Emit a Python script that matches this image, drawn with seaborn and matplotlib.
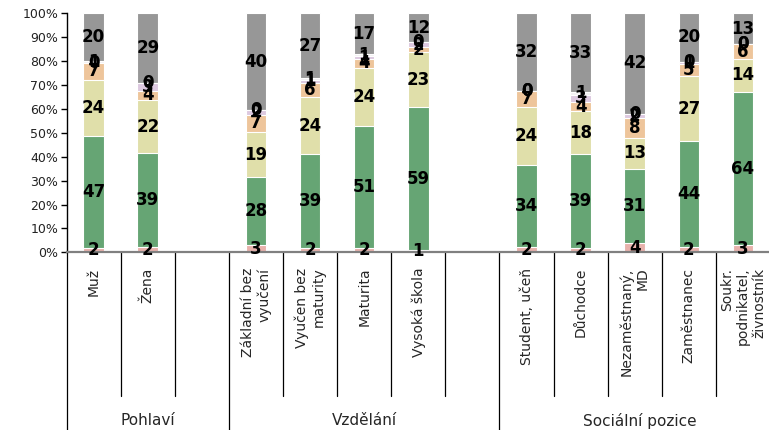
import numpy as np
import pandas as pd
import matplotlib
matplotlib.use("Agg")
import matplotlib.pyplot as plt
import matplotlib.transforms as mtransforms
import seaborn as sns

# categories (blank slots are the gaps between groups)
categories = ["Muž", "Žena", "", "Základní bez\nvyučení", "Vyučen bez\nmaturity",
              "Maturita", "Vysoká škola", " ", "Student, učeň", "Důchodce",
              "Nezaměstnaný,\nMD", "Zaměstnanec", "Soukr.\npodnikatel,\nživnostník"]
groups = ["Pohlaví", "Vzdělání", "Sociální pozice"]

# segment values per category, bottom to top (NaN = empty slot)
s_pink = [2, 2, np.nan, 3, 2, 2, 1, np.nan, 2, 2, 4, 2, 3]
s_green = [47, 39, np.nan, 28, 39, 51, 59, np.nan, 34, 39, 31, 44, 64]
s_yellow = [24, 22, np.nan, 19, 24, 24, 23, np.nan, 24, 18, 13, 27, 14]
s_orange = [7, 4, np.nan, 7, 6, 4, 2, np.nan, 7, 4, 8, 5, 6]
s_lavender = [0, 3, np.nan, 2, 1, 1, 2, np.nan, 0, 3, 2, 1, 0]
s_white = [1, 0, np.nan, 0, 1, 1, 0, np.nan, 0, 1, 0, 0, 0]
s_gray = [20, 29, np.nan, 40, 27, 17, 12, np.nan, 32, 33, 42, 20, 13]

series = [s_pink, s_green, s_yellow, s_orange, s_lavender, s_white, s_gray]
colors = ["#E8B2AC", "#66A574", "#E0DFAA", "#EEC59B", "#DDC9E0", "#F4F2F4", "#979797"]

vals = np.array(series, dtype=float)
pct = vals / np.nansum(vals, axis=0) * 100
cum = np.cumsum(pct, axis=0)

sns.set_theme(style="white")
plt.rcParams["font.family"] = ["DejaVu Sans"]

fig = plt.figure(figsize=(7.69, 4.30), dpi=100)
ax = fig.add_axes([66.6 / 769, 177.7 / 430, 703.4 / 769, 239 / 430])

order = [f"c{i}" for i in range(len(categories))]
# draw cumulative totals from top layer down so each layer covers the next
for k in range(len(series) - 1, -1, -1):
    df = pd.DataFrame({"cat": order, "val": cum[k]})
    sns.barplot(data=df, x="cat", y="val", order=order, color=colors[k],
                saturation=1, width=0.38, errorbar=None, edgecolor="white",
                linewidth=0.8, ax=ax)

# data labels
for k in range(len(series)):
    for i in range(len(categories)):
        v = vals[k, i]
        if np.isnan(v):
            continue
        ymid = cum[k, i] - pct[k, i] / 2
        ax.text(i, ymid, f"{int(v)}", ha="center", va="center",
                fontsize=12, fontweight="bold", color="black")

ax.set_xlim(-0.5, len(categories) - 0.5)
ax.set_ylim(0, 100)
ax.set_yticks(np.arange(0, 101, 10))
ax.set_yticklabels([f"{t}%" for t in range(0, 101, 10)], fontsize=9, color="#222222")
ax.set_xticks(range(len(categories)))
ax.set_xticklabels(categories, rotation=90, fontsize=10, va="top", ha="center")
for lbl in ax.get_xticklabels():
    lbl.set_multialignment("right")
ax.tick_params(axis="x", length=0, pad=11)
ax.tick_params(axis="y", left=True, length=4, width=1, color="black", direction="out", pad=2)
ax.set_xlabel("")
ax.set_ylabel("")

for side in ["top", "right"]:
    ax.spines[side].set_visible(False)
ax.spines["left"].set_color("black")
ax.spines["left"].set_linewidth(1)
ax.spines["bottom"].set_color("#808080")
ax.spines["bottom"].set_linewidth(1.6)

# separator lines below the axis
trans = mtransforms.blended_transform_factory(ax.transData, ax.transAxes)
major = [-0.5, 2.5, 7.5]
minor = [0.5, 1.5, 3.5, 4.5, 5.5, 6.5, 8.5, 9.5, 10.5, 11.5]
for x in major:
    ax.plot([x, x], [0, -0.75], transform=trans, color="black", lw=0.9, clip_on=False)
for x in minor:
    ax.plot([x, x], [0, -0.60], transform=trans, color="black", lw=0.9, clip_on=False)

group_x = [1.0, 5.0, 10.1]
for gx, g in zip(group_x, groups):
    ax.text(gx, -0.705, g, transform=trans, ha="center", va="center", fontsize=11)

fig.savefig("out.png", dpi=100)
